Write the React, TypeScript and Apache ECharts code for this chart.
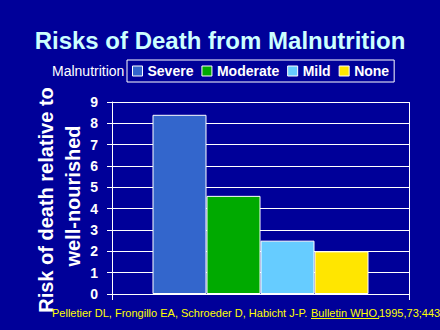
import React, { useEffect, useRef } from "react";
import * as echarts from "echarts";

const categories = ["Malnutrition"];
const seriesNames = ["Severe", "Moderate", "Mild", "None"];
const seriesValues = [8.4, 4.6, 2.5, 2.0];
const seriesColors = ["#3366CC", "#00AA00", "#66CCFF", "#FFE600"];
const yMin = 0;
const yMax = 9;
const yInterval = 1;

const titleText = "Risks of Death from Malnutrition";
const legendLabel = "Malnutrition";
const yTitleLines = ["Risk of death relative to", "well-nourished"];
const footParts = [
  "Pelletier DL, Frongillo EA, Schroeder D, Habicht J-P. ",
  "Bulletin WHO,",
  "1995,73;443",
];

const FONT = "'Liberation Sans', Arial, Helvetica, sans-serif";
const BG = "#000099";
const FOOT_COLOR = "#FFFF00";

export default function App() {
  const ref = useRef<HTMLDivElement>(null);

  useEffect(() => {
    if (!ref.current) return;
    const chart = echarts.init(ref.current, undefined, { renderer: "svg" });

    const option: any = {
      animation: false,
      backgroundColor: BG,
      title: {
        text: titleText,
        left: "center",
        top: 28,
        padding: 0,
        textStyle: {
          color: "#CCFFFF",
          fontSize: 24,
          fontWeight: "bold",
          fontFamily: FONT,
        },
      },
      legend: {
        data: seriesNames,
        left: 127,
        top: 60,
        orient: "horizontal",
        icon: "rect",
        itemWidth: 10,
        itemHeight: 10,
        itemGap: 8,
        padding: [4, 5, 4, 5],
        borderColor: "#FFFFFF",
        borderWidth: 1,
        itemStyle: { borderColor: "#FFFFFF", borderWidth: 1 },
        textStyle: {
          color: "#FFFFFF",
          fontSize: 14,
          fontWeight: "bold",
          fontFamily: FONT,
        },
      },
      grid: {
        left: 112,
        right: 31,
        top: 102,
        bottom: 36,
        containLabel: false,
        outerBoundsMode: "none",
      },
      xAxis: {
        type: "category",
        data: categories,
        axisLine: { show: true, lineStyle: { color: "#FFFFFF", width: 1 } },
        axisTick: { show: true, length: 6, lineStyle: { color: "#FFFFFF", width: 1 } },
        axisLabel: { show: false },
        splitLine: { show: true, lineStyle: { color: "#FFFFFF", width: 1 } },
      },
      yAxis: {
        type: "value",
        min: yMin,
        max: yMax,
        interval: yInterval,
        axisLine: { show: true, lineStyle: { color: "#FFFFFF", width: 1 } },
        axisTick: { show: true, length: 5, lineStyle: { color: "#FFFFFF", width: 1 } },
        axisLabel: {
          color: "#FFFFFF",
          fontSize: 14,
          fontWeight: "bold",
          fontFamily: FONT,
          margin: 14,
        },
        splitLine: { show: true, lineStyle: { color: "#FFFFFF", width: 1 } },
      },
      series: seriesNames.map((name, i) => ({
        type: "bar",
        name,
        data: [seriesValues[i]],
        barWidth: 54,
        barGap: "0%",
        itemStyle: {
          color: seriesColors[i],
          borderColor: "#FFFFFF",
          borderWidth: 1,
        },
      })),
      graphic: [
        {
          type: "text",
          x: 52,
          y: 71,
          style: {
            text: legendLabel,
            fill: "#FFFFFF",
            fontSize: 14,
            fontFamily: FONT,
            align: "left",
            verticalAlign: "middle",
          },
        },
        {
          type: "text",
          x: 46,
          y: 200,
          rotation: Math.PI / 2,
          style: {
            text: yTitleLines[0],
            fill: "#FFFFFF",
            fontSize: 20,
            fontWeight: "bold",
            fontFamily: FONT,
            align: "center",
            verticalAlign: "middle",
          },
        },
        {
          type: "text",
          x: 73,
          y: 196,
          rotation: Math.PI / 2,
          style: {
            text: yTitleLines[1],
            fill: "#FFFFFF",
            fontSize: 20,
            fontWeight: "bold",
            fontFamily: FONT,
            align: "center",
            verticalAlign: "middle",
          },
        },
        {
          type: "text",
          x: 52,
          y: 313,
          style: {
            text: footParts[0],
            fill: FOOT_COLOR,
            fontSize: 11,
            fontFamily: FONT,
            align: "left",
            verticalAlign: "middle",
          },
        },
        {
          type: "text",
          x: 311,
          y: 313,
          style: {
            text: footParts[1],
            fill: FOOT_COLOR,
            fontSize: 11,
            fontFamily: FONT,
            align: "left",
            verticalAlign: "middle",
          },
        },
        {
          type: "line",
          shape: { x1: 311, y1: 318.5, x2: 379, y2: 318.5 },
          style: { stroke: FOOT_COLOR, lineWidth: 1 },
        },
        {
          type: "text",
          x: 379,
          y: 313,
          style: {
            text: footParts[2],
            fill: FOOT_COLOR,
            fontSize: 11,
            fontFamily: FONT,
            align: "left",
            verticalAlign: "middle",
          },
        },
      ],
    };

    chart.setOption(option);
    return () => {
      chart.dispose();
    };
  }, []);

  return (
    <div
      ref={ref}
      style={{ position: "fixed", left: 0, top: 0, width: 440, height: 330 }}
    />
  );
}
